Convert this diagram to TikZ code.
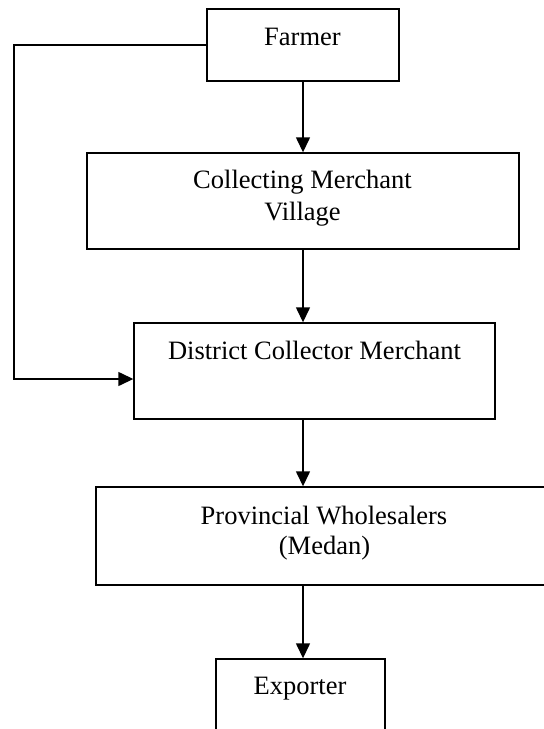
\documentclass[tikz,border=0pt]{standalone}
\usepackage{fontspec}
\setmainfont{Liberation Serif}
\usetikzlibrary{arrows.meta}
\begin{document}
\begin{tikzpicture}[x=0.5pt,y=-0.5pt,
  box/.style={draw, line width=0.7pt, rectangle, inner sep=0pt},
  txt/.style={inner sep=0pt, anchor=base, font=\fontsize{13.25}{15.5}\selectfont},
  arr/.style={line width=0.7pt, -{Triangle[length=7.5pt,width=7pt]}}]
\useasboundingbox (0,0) rectangle (544,729);
\clip (0,0) rectangle (544,729);
\fill[white] (0,0) rectangle (544,729);
% boxes
\node[box, minimum width=96pt, minimum height=36pt] (farmer) at (303,45) {};
\node[box, minimum width=216pt, minimum height=48pt] (collect) at (303,201) {};
\node[box, minimum width=180.5pt, minimum height=48pt] (district) at (314.5,371) {};
\node[box, minimum width=242pt, minimum height=49pt] (prov) at (338,536) {};
\node[box, minimum width=84.5pt, minimum height=70.5pt] (exporter) at (300.5,729.5) {};
% texts
\node[txt] (t1) at (302.5,45) {Farmer};
\node[txt] (t2) at (302.5,188) {Collecting Merchant};
\node[txt] (t3) at (302.5,220) {Village};
\node[txt] (t4) at (314.5,359) {District Collector Merchant};
\node[txt] (t5) at (324,524) {Provincial Wholesalers};
\node[txt] (t6) at (324.5,554) {(Medan)};
\node[txt] (t7) at (300,694) {Exporter};
% connectors
\draw[arr] (farmer.south) -- (collect.north);
\draw[arr] (collect.south) -- (collect.south |- district.north);
\draw[arr] (collect.south |- district.south) -- (collect.south |- prov.north);
\draw[arr] (collect.south |- prov.south) -- (collect.south |- exporter.north);
\coordinate (bend) at (14,379);
\draw[arr] (farmer.west) -| (bend) -- (bend -| district.west);
\end{tikzpicture}
\end{document}
